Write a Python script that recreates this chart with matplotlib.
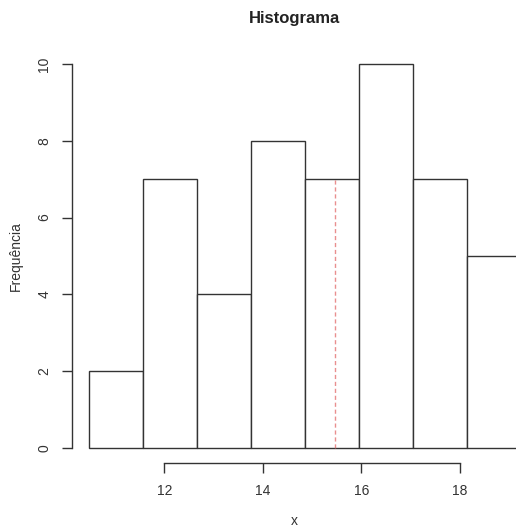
import numpy as np
import matplotlib.pyplot as plt

# Histograma (estilo R)
breaks = [10.47, 11.57, 12.66, 13.76, 14.85, 15.95, 17.04, 18.14, 19.23]
counts = [2, 7, 4, 8, 7, 10, 7, 5]
media = 15.46
xticks = [12, 14, 16, 18]
yticks = [0, 2, 4, 6, 8, 10]

plt.rcParams['font.family'] = ['Liberation Sans', 'DejaVu Sans']

W, H = 516, 531
fig = plt.figure(figsize=(W / 100, H / 100), dpi=100)

# ejes en pixeles: izquierda 72, derecha 516, abajo 463, arriba 49
ax = fig.add_axes([72 / W, 1 - 463 / H, (516 - 72) / W, (463 - 49) / H])

left = np.array(breaks[:-1])
widths = np.diff(breaks)
ax.bar(left, counts, width=widths, align='edge', facecolor='white',
       edgecolor='#333333', linewidth=1.0, clip_on=True)

# linea de la media hasta la altura de su barra
idx = np.searchsorted(breaks, media) - 1
ax.plot([media, media], [0, counts[idx]], color='#e26a6a', alpha=0.75,
        linestyle=(0, (3, 2)), linewidth=1.0)

ax.set_xlim(10.128, 19.134)
ax.set_ylim(-0.39, 10.39)

for s in ['top', 'right']:
    ax.spines[s].set_visible(False)
ax.spines['left'].set_bounds(0, 10)
ax.spines['bottom'].set_bounds(12, 18)
for s in ['left', 'bottom']:
    ax.spines[s].set_color('#333333')
    ax.spines[s].set_linewidth(1.0)

ax.set_xticks(xticks)
ax.set_yticks(yticks)
ax.tick_params(axis='both', direction='out', length=7, width=1.0,
               color='#333333', labelsize=10, labelcolor='#333333')
ax.tick_params(axis='x', pad=8)
ax.tick_params(axis='y', pad=8)
for lab in ax.get_yticklabels():
    lab.set_rotation(90)
    lab.set_va('center')

fig.text(294 / W, 1 - 18 / H, 'Histograma', ha='center', va='center',
         fontsize=12, fontweight='bold', color='#222222')
fig.text(294 / W, 1 - 521 / H, 'x', ha='center', va='center',
         fontsize=10, color='#333333')
fig.text(16 / W, 1 - 256 / H, 'Frequência', ha='center', va='center',
         rotation=90, fontsize=10, color='#333333')

fig.savefig('out.png', dpi=100)
